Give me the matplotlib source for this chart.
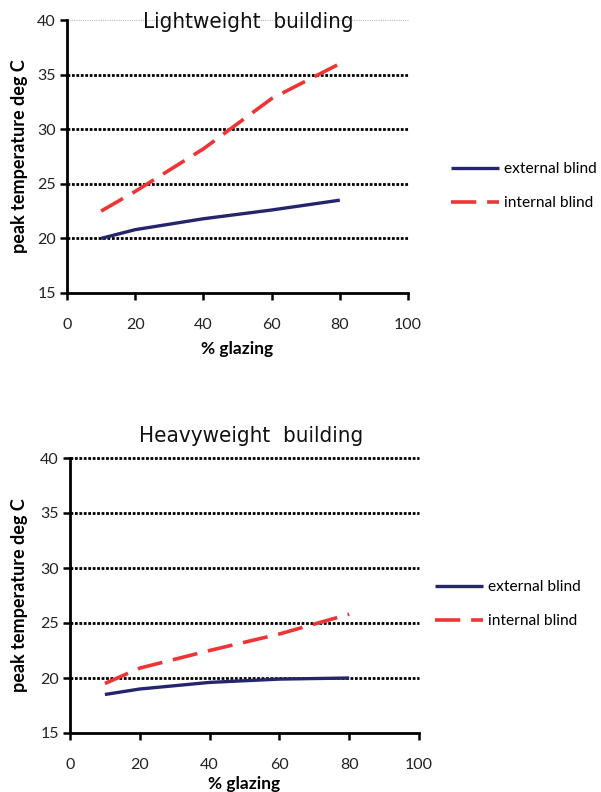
import matplotlib
matplotlib.use("Agg")
import matplotlib.pyplot as plt

glazing = [10, 20, 40, 60, 80]
light_external = [20.0, 20.8, 21.8, 22.6, 23.5]
light_internal = [22.5, 24.3, 28.2, 32.8, 36.0]
heavy_external = [18.5, 19.0, 19.6, 19.9, 20.0]
heavy_internal = [19.5, 20.9, 22.5, 24.0, 25.8]
titles = ["Lightweight  building", "Heavyweight  building"]
series_labels = ["external blind", "internal blind"]
xticks = [0, 20, 40, 60, 80, 100]
yticks = [15, 20, 25, 30, 35, 40]

TICKFONT = "Lato"
NAVY = "#25256e"
RED = "#ee3535"

fig = plt.figure(figsize=(6.01, 7.92), dpi=100)

W, H = 601, 792

def px_axes(l, r, t, b):
    return fig.add_axes([l / W, (H - b) / H, (r - l) / W, (b - t) / H])

specs = [
    dict(box=(67, 408, 20, 293), data=(light_external, light_internal),
         title=titles[0], title_xy=(248, 22), leg=(448, 159),
         xlabel_y=341, top_grey=True),
    dict(box=(70, 419, 458, 733), data=(heavy_external, heavy_internal),
         title=titles[1], title_xy=(251, 436), leg=(432, 577),
         xlabel_y=776, top_grey=False),
]

for s in specs:
    l, r, t, b = s["box"]
    ax = px_axes(l, r, t, b)
    ax.set_xlim(0, 100)
    ax.set_ylim(15, 40)
    for y in yticks[1:]:
        if y == 40 and s["top_grey"]:
            ax.axhline(y, color="#bbbbbb", lw=0.8, ls=(0, (1, 1)), zorder=1, clip_on=False)
        else:
            ax.axhline(y, color="black", lw=2.0, ls=(0, (1, 0.6)), zorder=1, clip_on=False)
    ext, inn = s["data"]
    l1, = ax.plot(glazing, ext, color=NAVY, lw=2.4, solid_capstyle="butt", zorder=3)
    l2, = ax.plot(glazing, inn, color=RED, lw=2.6, ls=(0, (7, 3)), dash_capstyle="butt", zorder=3)
    for sp in ["top", "right"]:
        ax.spines[sp].set_visible(False)
    for sp in ["left", "bottom"]:
        ax.spines[sp].set_linewidth(2.0)
        ax.spines[sp].set_color("black")
    ax.set_xticks(xticks)
    ax.set_yticks(yticks)
    ax.tick_params(axis="both", direction="out", length=5, width=1.8, colors="black",
                   labelsize=11.5, labelcolor="#222222")
    ax.tick_params(axis="x", pad=13)
    ax.tick_params(axis="y", pad=3)
    for lab in ax.get_xticklabels() + ax.get_yticklabels():
        lab.set_fontfamily(TICKFONT)
    ax.set_xlabel("% glazing", fontsize=12.5, fontweight="bold", family=TICKFONT)
    ax.xaxis.set_label_coords(0.5, (b - s["xlabel_y"]) / (b - t))
    ax.set_ylabel("peak temperature deg C", fontsize=13, fontweight="bold", family=TICKFONT)
    ax.yaxis.set_label_coords((20 - l) / (r - l), 0.5)
    ax.yaxis.label.set_va("center")
    tx, ty = s["title_xy"]
    fig.text(tx / W, (H - ty) / H, s["title"], ha="center", va="center",
             fontsize=16, family="DejaVu Sans", fontstretch="condensed", color="#111111")
    lx, ly = s["leg"]
    fig.legend([l1, l2], series_labels, loc="upper left",
               bbox_to_anchor=(lx / W, (H - ly) / H), frameon=False,
               prop={"family": TICKFONT, "size": 11.2}, handlelength=3.1,
               handletextpad=0.3, labelspacing=1.3, borderaxespad=0, borderpad=0.2)

fig.savefig("out.png", dpi=100)
